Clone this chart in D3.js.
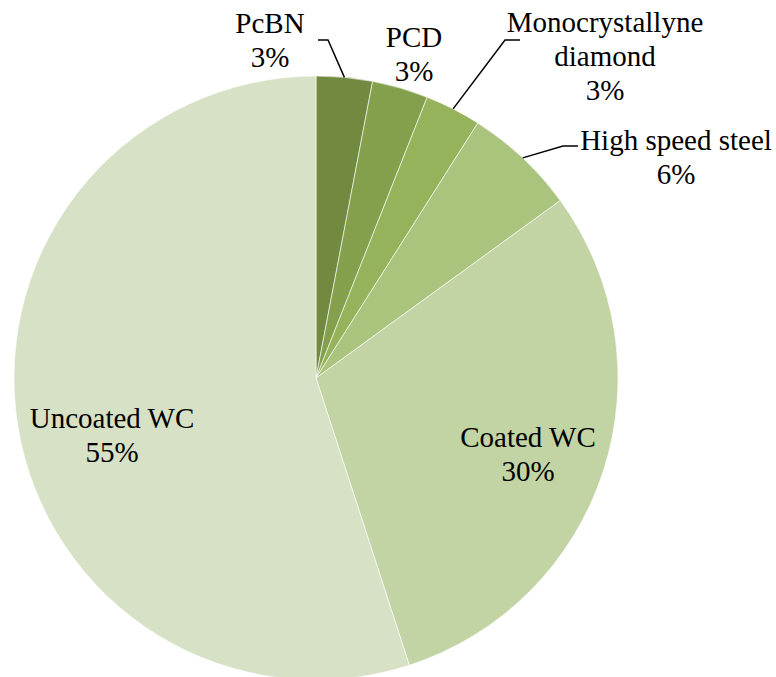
<!DOCTYPE html>
<html>
<body style="margin:0">
<svg width="776" height="677"></svg>
<script src="https://cdn.jsdelivr.net/npm/d3@7"></script>
<script>
var categories = ["PcBN", "PCD", "Monocrystallyne diamond", "High speed steel", "Coated WC", "Uncoated WC"];
var values = [3, 3, 3, 6, 30, 55];
var colors = ["#718a3f", "#84a04c", "#94b35a", "#aac47d", "#c2d3a4", "#d7e1c6"];

// label lines per slice (text wrapped like the original)
var labelLines = [["PcBN"], ["PCD"], ["Monocrystallyne", "diamond"], ["High speed steel"], ["Coated WC"], ["Uncoated WC"]];
// label centre x and first baseline, in page coords
var labelPos = [[270, 33], [414, 47], [605, 32], [676, 150], [528, 447], [112, 428]];
var leaderElbow = [[328, 40], null, [505, 40], [563, 146], null, null];

var svg = d3.select("svg"),
    cx = 316, cy = 378, radius = 302,
    lineH = 34;

var data = categories.map(function(c, i) { return { name: c, value: values[i], i: i }; });

var pie = d3.pie().sort(null).value(function(d) { return d.value; });
var arc = d3.arc().innerRadius(0).outerRadius(radius);
var arcs = pie(data);

var g = svg.append("g").attr("transform", "translate(" + cx + "," + cy + ")");

g.selectAll("path")
    .data(arcs)
    .enter().append("path")
      .attr("d", arc)
      .attr("fill", function(d) { return colors[d.data.i]; })
      .attr("stroke", "#fff")
      .attr("stroke-opacity", 0.6)
      .attr("stroke-width", 1);

// leader lines from the arc midpoint to the label
arcs.forEach(function(d) {
  var el = leaderElbow[d.data.i];
  if (!el) return;
  var mid = (d.startAngle + d.endAngle) / 2;
  var px = cx + radius * Math.sin(mid), py = cy - radius * Math.cos(mid);
  var lp = labelPos[d.data.i];
  var textEnd;
  if (el[0] > lp[0]) textEnd = [el[0] - 10, el[1]];
  else textEnd = [el[0] + 15, el[1]];
  svg.append("path")
      .attr("d", d3.line()([textEnd, el, [px, py]]))
      .attr("fill", "none")
      .attr("stroke", "#000")
      .attr("stroke-width", 1.5);
});

// one text element per label line
var lineData = [];
arcs.forEach(function(d) {
  var lines = labelLines[d.data.i].concat([d.data.value + "%"]);
  lines.forEach(function(l, k) {
    lineData.push({ text: l, x: labelPos[d.data.i][0], y: labelPos[d.data.i][1] + k * lineH });
  });
});

svg.selectAll("text.lbl")
    .data(lineData)
    .enter().append("text")
      .attr("class", "lbl")
      .attr("y", function(d) { return d.y; })
      .attr("font-size", 29)
      .style("font-family", "'Liberation Serif'")
      .text(function(d) { return d.text; })
      .attr("x", function(d) { return d.x - this.getComputedTextLength() / 2; });
</script>
</body>
</html>
